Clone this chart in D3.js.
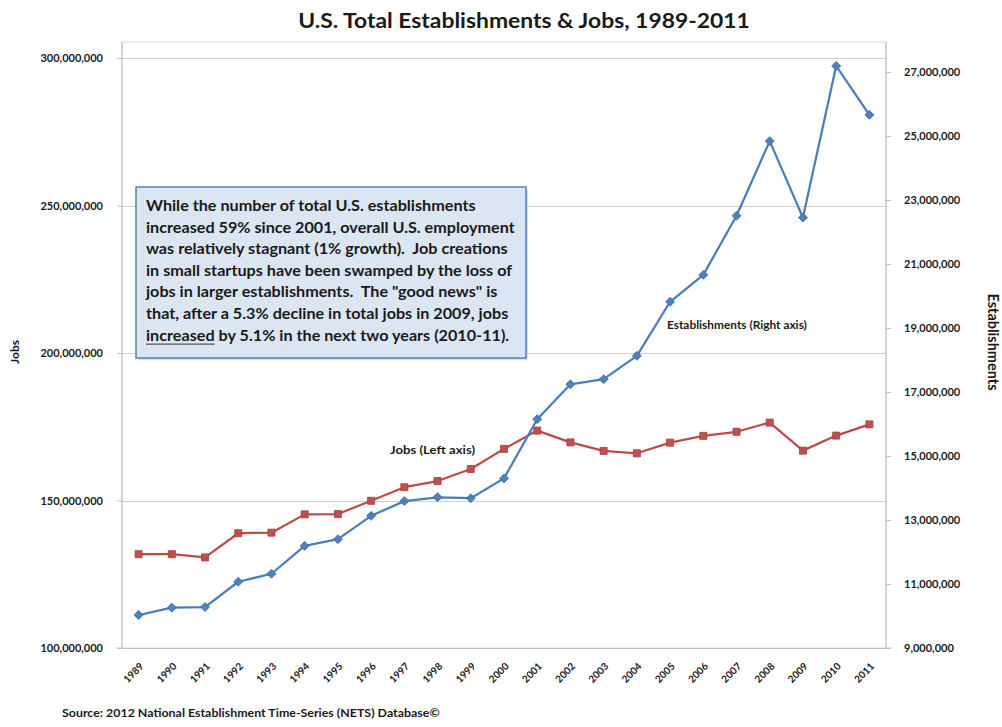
<!DOCTYPE html>
<html>
<head>
<meta charset="utf-8">
<script src="https://cdn.jsdelivr.net/npm/d3@7"></script>
<style>
  html, body { margin: 0; padding: 0; background: #ffffff; }
  svg { display: block; font-family: Lato, "Open Sans", sans-serif; }
</style>
</head>
<body>
<svg id="chart" width="1002" height="727"></svg>
<script>
// Years on the category axis
const years = ["1989","1990","1991","1992","1993","1994","1995","1996","1997","1998","1999",
               "2000","2001","2002","2003","2004","2005","2006","2007","2008","2009","2010","2011"];

// Total jobs (left axis)
const jobs = [131.8e6, 131.8e6, 130.7e6, 138.9e6, 139.1e6, 145.3e6, 145.4e6, 149.9e6, 154.5e6, 156.6e6, 160.7e6,
              167.5e6, 173.7e6, 169.7e6, 166.8e6, 166.0e6, 169.6e6, 171.9e6, 173.3e6, 176.4e6, 166.9e6, 172.0e6, 175.8e6];

// Total establishments (right axis)
const establishments = [10.03e6, 10.26e6, 10.28e6, 11.07e6, 11.32e6, 12.19e6, 12.40e6, 13.13e6, 13.59e6, 13.71e6, 13.68e6,
                        14.30e6, 16.15e6, 17.24e6, 17.40e6, 18.13e6, 19.82e6, 20.66e6, 22.51e6, 24.84e6, 22.45e6, 27.19e6, 25.66e6];

// Tick values for both value axes
const leftTicks = [100e6, 150e6, 200e6, 250e6, 300e6];
const rightTicks = [9e6, 11e6, 13e6, 15e6, 17e6, 19e6, 21e6, 23e6, 25e6, 27e6];

// Annotation text
const noteLines = [
  "While the number of total U.S. establishments",
  "increased 59% since 2001, overall U.S. employment",
  "was relatively stagnant (1% growth).  Job creations",
  "in small startups have been swamped by the loss of",
  "jobs in larger establishments.  The \"good news\" is",
  "that, after a 5.3% decline in total jobs in 2009, jobs",
  "increased by 5.1% in the next two years (2010-11)."
];

const svg = d3.select("#chart");
const plot = { left: 122, right: 886, top: 42, bottom: 648 };
const ink = "#1a1a1a";

const x = d3.scalePoint().domain(years).range([plot.left, plot.right]).padding(0.5);
const yLeft = d3.scaleLinear().domain([100e6, 300e6]).range([plot.bottom, 58]);
const yRight = d3.scaleLinear().domain([9e6, 27e6]).range([plot.bottom, 72]);
const fmt = d3.format(",");

// Text in this chart uses a slightly widened face
function widened(sel, ax, sx) {
  return sel.attr("transform", `translate(${ax},0) scale(${sx},1) translate(${-ax},0)`);
}

// Title
svg.append("text")
  .attr("x", 524).attr("y", 28)
  .attr("text-anchor", "middle")
  .style("font-size", "21px").style("font-weight", "bold").style("fill", ink)
  .call(widened, 524, 1.09)
  .text("U.S. Total Establishments & Jobs, 1989-2011");

// Plot frame
svg.append("rect")
  .attr("x", plot.left).attr("y", plot.top)
  .attr("width", plot.right - plot.left).attr("height", plot.bottom - plot.top)
  .attr("fill", "none").attr("stroke", "#d9d9d9").attr("stroke-width", 1);

// Horizontal gridlines from the left axis
svg.append("g")
  .selectAll("line")
  .data(leftTicks.slice(1))
  .join("line")
  .attr("x1", plot.left).attr("x2", plot.right)
  .attr("y1", d => Math.round(yLeft(d)) + 0.5).attr("y2", d => Math.round(yLeft(d)) + 0.5)
  .attr("stroke", "#d0d0d0").attr("stroke-width", 1.2);

// Left axis
const gLeft = svg.append("g")
  .attr("transform", `translate(${plot.left},0)`)
  .call(d3.axisLeft(yLeft).tickValues(leftTicks).tickFormat(fmt).tickSize(5).tickPadding(14));
gLeft.select(".domain").attr("stroke", "#bfbfbf").attr("d", `M-5,${plot.bottom}H0V${plot.top}`);
gLeft.selectAll(".tick line").attr("stroke", "#bfbfbf");
gLeft.selectAll(".tick text")
  .style("font-family", "Lato, sans-serif").style("font-size", "11px").style("font-weight", "bold").style("fill", ink);

// Right axis
const gRight = svg.append("g")
  .attr("transform", `translate(${plot.right},0)`)
  .call(d3.axisRight(yRight).tickValues(rightTicks).tickFormat(fmt).tickSize(5).tickPadding(13));
gRight.select(".domain").attr("stroke", "#bfbfbf").attr("d", `M5,${plot.bottom}H0V${plot.top}`);
gRight.selectAll(".tick line").attr("stroke", "#bfbfbf");
gRight.selectAll(".tick text")
  .style("font-family", "Lato, sans-serif").style("font-size", "11px").style("font-weight", "bold").style("fill", ink);

// Category axis
const gBottom = svg.append("g")
  .attr("transform", `translate(0,${plot.bottom})`)
  .call(d3.axisBottom(x).tickSize(0).tickPadding(0));
gBottom.select(".domain").attr("stroke", "#bfbfbf");
gBottom.selectAll(".tick text")
  .style("font-family", "Lato, sans-serif").style("font-size", "10px").style("font-weight", "bold").style("fill", ink)
  .attr("text-anchor", "end")
  .attr("dy", "0")
  .attr("transform", "translate(5,19) rotate(-45)");

// Axis titles
svg.append("text")
  .attr("transform", "translate(19,352) rotate(-90)")
  .attr("text-anchor", "middle")
  .style("font-size", "12px").style("font-weight", "bold").style("fill", ink)
  .text("Jobs");
svg.append("text")
  .attr("transform", "translate(988,342) rotate(90)")
  .attr("text-anchor", "middle")
  .style("font-size", "14.5px").style("font-weight", "bold").style("fill", ink)
  .text("Establishments");

// Series lines
const jobsLine = d3.line().x((d, i) => x(years[i])).y(d => yLeft(d));
const estLine = d3.line().x((d, i) => x(years[i])).y(d => yRight(d));

svg.append("path").datum(jobs)
  .attr("d", jobsLine).attr("fill", "none")
  .attr("stroke", "#be4b48").attr("stroke-width", 2.25).attr("stroke-linejoin", "round");
svg.append("g").selectAll("path")
  .data(jobs).join("path")
  .attr("d", d3.symbol(d3.symbolSquare, 50))
  .attr("transform", (d, i) => `translate(${x(years[i])},${yLeft(d)})`)
  .attr("fill", "#c0504d").attr("stroke", "#a8403d").attr("stroke-width", 0.8);

svg.append("path").datum(establishments)
  .attr("d", estLine).attr("fill", "none")
  .attr("stroke", "#4a7ebb").attr("stroke-width", 2.25).attr("stroke-linejoin", "round");
svg.append("g").selectAll("path")
  .data(establishments).join("path")
  .attr("d", d3.symbol(d3.symbolSquare, 40))
  .attr("transform", (d, i) => `translate(${x(years[i])},${yRight(d)}) rotate(45)`)
  .attr("fill", "#4f81bd").attr("stroke", "#3d6da8").attr("stroke-width", 0.8);

// Series labels
svg.append("text")
  .attr("x", 390).attr("y", 454)
  .style("font-size", "11px").style("font-weight", "bold").style("fill", ink)
  .call(widened, 390, 1.2)
  .text("Jobs (Left axis)");
svg.append("text")
  .attr("x", 667).attr("y", 329)
  .style("font-size", "11px").style("font-weight", "bold").style("fill", ink)
  .call(widened, 667, 1.08)
  .text("Establishments (Right axis)");

// Annotation box
const note = svg.append("g");
note.append("rect")
  .attr("x", 138).attr("y", 189).attr("width", 390).attr("height", 171)
  .attr("fill", "#bfbfbf").attr("opacity", 0.5);
note.append("rect")
  .attr("x", 136).attr("y", 187).attr("width", 390).attr("height", 171)
  .attr("fill", "#dce6f2").attr("stroke", "#4f81bd").attr("stroke-width", 1.5);
const noteText = note.append("text")
  .style("font-size", "14.2px").style("font-weight", "bold").style("fill", ink)
  .style("white-space", "pre")
  .call(widened, 146, 1.14);
noteLines.forEach((line, i) => {
  noteText.append("tspan")
    .attr("x", 146).attr("y", 211 + i * 21.6)
    .text(line);
});
// Underline under "increased" on the last line
const lastTspan = noteText.selectAll("tspan").filter((d, i) => i === noteLines.length - 1).node();
const wordEnd = lastTspan.getSubStringLength(0, "increased".length) * 1.14;
note.append("line")
  .attr("x1", 146).attr("x2", 146 + wordEnd)
  .attr("y1", 211 + 6 * 21.6 + 3.5).attr("y2", 211 + 6 * 21.6 + 3.5)
  .attr("stroke", "#555").attr("stroke-width", 1.3);

// Source line
svg.append("text")
  .attr("x", 62).attr("y", 717)
  .style("font-size", "11px").style("font-weight", "bold").style("fill", ink)
  .call(widened, 62, 1.13)
  .text("Source: 2012 National Establishment Time-Series (NETS) Database\u00A9");
</script>
</body>
</html>
